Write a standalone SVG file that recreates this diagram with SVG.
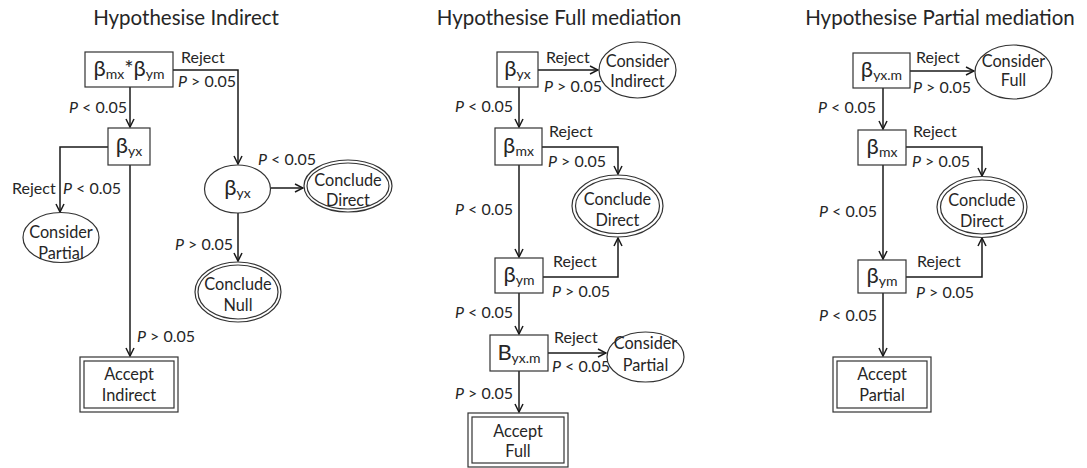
<svg xmlns="http://www.w3.org/2000/svg" width="1087" height="468" viewBox="0 0 1087 468">
  <defs>
    <marker id="arrow" viewBox="0 0 10 10" refX="9" refY="5" markerWidth="10" markerHeight="10" markerUnits="userSpaceOnUse" orient="auto">
      <path d="M1,1 L9,5 L1,9" fill="none" stroke="#1a1a1a" stroke-width="1.5"/>
    </marker>
  </defs>
  <style>
    text { font-family: Lato, "Liberation Sans", sans-serif; fill: #262626; }
    .title { font-size: 20.5px; text-anchor: middle; }
    .lbl { font-size: 16px; }
    .txt { font-size: 16.3px; text-anchor: middle; }
    .greek { font-size: 22px; text-anchor: middle; }
    .sub { font-size: 14px; }
    .box { fill: #ffffff; stroke: #333333; stroke-width: 1.2; }
    .ell { fill: #ffffff; stroke: #333333; stroke-width: 1.2; }
    .edge { fill: none; stroke: #1a1a1a; stroke-width: 1.5; marker-end: url(#arrow); }
    .it { font-style: italic; }
  </style>

  <!-- panel titles -->
  <text class="title" x="186" y="25">Hypothesise Indirect</text>
  <text class="title" x="559" y="25">Hypothesise Full mediation</text>
  <text class="title" x="940" y="25">Hypothesise Partial mediation</text>

  <!-- connectors -->
  <g id="connectors">
    <!-- indirect panel -->
    <path class="edge" d="M130,87 L130,127"/>
    <path class="edge" d="M173,70 L238,70 L238,164"/>
    <path class="edge" d="M108,147 L60,147 L60,212"/>
    <path class="edge" d="M130,165 L130,356"/>
    <path class="edge" d="M271,188 L303,188"/>
    <path class="edge" d="M238,213 L238,261"/>
    <!-- full mediation panel -->
    <path class="edge" d="M519,87 L519,127"/>
    <path class="edge" d="M538,70 L598,70"/>
    <path class="edge" d="M542,147 L618,147 L618,174"/>
    <path class="edge" d="M519,165 L519,257"/>
    <path class="edge" d="M543,277 L618,277 L618,238"/>
    <path class="edge" d="M519,293 L519,334"/>
    <path class="edge" d="M548,353 L606,353"/>
    <path class="edge" d="M519,371 L519,412"/>
    <!-- partial mediation panel -->
    <path class="edge" d="M910,71 L974,71"/>
    <path class="edge" d="M883,88 L883,129"/>
    <path class="edge" d="M906,147 L982,147 L982,176"/>
    <path class="edge" d="M883,165 L883,259"/>
    <path class="edge" d="M906,277 L982,277 L982,238"/>
    <path class="edge" d="M883,293 L883,356"/>
  </g>

  <!-- connector labels -->
  <g id="edge-labels">
    <text class="lbl" x="181" y="63">Reject</text>
    <text class="lbl" x="178" y="87"><tspan class="it">P</tspan> &gt; 0.05</text>
    <text class="lbl" x="69" y="113"><tspan class="it">P</tspan> &lt; 0.05</text>
    <text class="lbl" x="12" y="194">Reject</text>
    <text class="lbl" x="63" y="194"><tspan class="it">P</tspan> &lt; 0.05</text>
    <text class="lbl" x="137" y="342"><tspan class="it">P</tspan> &gt; 0.05</text>
    <text class="lbl" x="258" y="165"><tspan class="it">P</tspan> &lt; 0.05</text>
    <text class="lbl" x="175" y="250"><tspan class="it">P</tspan> &gt; 0.05</text>

    <text class="lbl" x="546" y="63">Reject</text>
    <text class="lbl" x="544" y="92"><tspan class="it">P</tspan> &gt; 0.05</text>
    <text class="lbl" x="455" y="112"><tspan class="it">P</tspan> &lt; 0.05</text>
    <text class="lbl" x="549" y="137">Reject</text>
    <text class="lbl" x="548" y="167"><tspan class="it">P</tspan> &gt; 0.05</text>
    <text class="lbl" x="455" y="215"><tspan class="it">P</tspan> &lt; 0.05</text>
    <text class="lbl" x="553" y="267">Reject</text>
    <text class="lbl" x="552" y="297"><tspan class="it">P</tspan> &gt; 0.05</text>
    <text class="lbl" x="455" y="318"><tspan class="it">P</tspan> &lt; 0.05</text>
    <text class="lbl" x="554" y="343">Reject</text>
    <text class="lbl" x="552" y="372"><tspan class="it">P</tspan> &lt; 0.05</text>
    <text class="lbl" x="455" y="399"><tspan class="it">P</tspan> &gt; 0.05</text>

    <text class="lbl" x="916" y="63">Reject</text>
    <text class="lbl" x="913" y="93"><tspan class="it">P</tspan> &gt; 0.05</text>
    <text class="lbl" x="818" y="113"><tspan class="it">P</tspan> &lt; 0.05</text>
    <text class="lbl" x="913" y="137">Reject</text>
    <text class="lbl" x="912" y="167"><tspan class="it">P</tspan> &gt; 0.05</text>
    <text class="lbl" x="819" y="217"><tspan class="it">P</tspan> &lt; 0.05</text>
    <text class="lbl" x="917" y="267">Reject</text>
    <text class="lbl" x="916" y="298"><tspan class="it">P</tspan> &gt; 0.05</text>
    <text class="lbl" x="819" y="321"><tspan class="it">P</tspan> &lt; 0.05</text>
  </g>

  <!-- ===== Hypothesise Indirect ===== -->
  <g id="ind-product">
    <rect class="box" x="85" y="52" width="88" height="35"/>
    <text class="greek" x="129" y="76">β<tspan class="sub" dy="3">mx</tspan><tspan dy="-3">*β</tspan><tspan class="sub" dy="3">ym</tspan></text>
  </g>
  <g id="ind-byx">
    <rect class="box" x="108" y="128" width="42" height="37"/>
    <text class="greek" x="129" y="153">β<tspan class="sub" dy="3">yx</tspan></text>
  </g>
  <g id="ind-byx-test">
    <ellipse class="ell" cx="237.5" cy="189" rx="33" ry="24"/>
    <text class="greek" x="237.5" y="195">β<tspan class="sub" dy="3">yx</tspan></text>
  </g>
  <g id="ind-consider-partial">
    <ellipse class="ell" cx="61" cy="237.5" rx="38" ry="25"/>
    <text class="txt" x="61" y="238">Consider</text>
    <text class="txt" x="61" y="259">Partial</text>
  </g>
  <g id="ind-conclude-direct">
    <ellipse class="ell" cx="348" cy="186" rx="44" ry="26"/>
    <ellipse class="ell" cx="348" cy="186" rx="41" ry="23"/>
    <text class="txt" x="348" y="186">Conclude</text>
    <text class="txt" x="348" y="206">Direct</text>
  </g>
  <g id="ind-conclude-null">
    <ellipse class="ell" cx="238" cy="292" rx="43" ry="30"/>
    <ellipse class="ell" cx="238" cy="292" rx="40" ry="27"/>
    <text class="txt" x="238" y="290">Conclude</text>
    <text class="txt" x="238" y="311">Null</text>
  </g>
  <g id="ind-accept">
    <rect class="box" x="80" y="357" width="98" height="55"/>
    <rect class="box" x="84" y="361" width="90" height="47"/>
    <text class="txt" x="129" y="380">Accept</text>
    <text class="txt" x="129" y="401">Indirect</text>
  </g>

  <!-- ===== Hypothesise Full mediation ===== -->
  <g id="full-byx">
    <rect class="box" x="497" y="52" width="41" height="35"/>
    <text class="greek" x="517.5" y="76">β<tspan class="sub" dy="3">yx</tspan></text>
  </g>
  <g id="full-consider-indirect">
    <ellipse class="ell" cx="637.5" cy="70" rx="38.5" ry="28"/>
    <text class="txt" x="637.5" y="67">Consider</text>
    <text class="txt" x="637.5" y="87">Indirect</text>
  </g>
  <g id="full-bmx">
    <rect class="box" x="495" y="128" width="47" height="37"/>
    <text class="greek" x="518.5" y="153">β<tspan class="sub" dy="3">mx</tspan></text>
  </g>
  <g id="full-conclude-direct">
    <ellipse class="ell" cx="617.5" cy="206" rx="45.5" ry="31"/>
    <ellipse class="ell" cx="617.5" cy="206" rx="42" ry="27.5"/>
    <text class="txt" x="617.5" y="205">Conclude</text>
    <text class="txt" x="617.5" y="226">Direct</text>
  </g>
  <g id="full-bym">
    <rect class="box" x="495" y="258" width="48" height="35"/>
    <text class="greek" x="519" y="282">β<tspan class="sub" dy="3">ym</tspan></text>
  </g>
  <g id="full-byxm">
    <rect class="box" x="490" y="335" width="58" height="36"/>
    <text class="greek" x="519" y="360">B<tspan class="sub" dy="3">yx.m</tspan></text>
  </g>
  <g id="full-consider-partial">
    <ellipse class="ell" cx="645.5" cy="357" rx="38.5" ry="25"/>
    <text class="txt" x="645.5" y="349">Consider</text>
    <text class="txt" x="645.5" y="371">Partial</text>
  </g>
  <g id="full-accept">
    <rect class="box" x="468" y="413" width="100" height="54"/>
    <rect class="box" x="472" y="417" width="92" height="46"/>
    <text class="txt" x="518" y="437">Accept</text>
    <text class="txt" x="518" y="457">Full</text>
  </g>

  <!-- ===== Hypothesise Partial mediation ===== -->
  <g id="part-byxm">
    <rect class="box" x="853" y="53" width="57" height="35"/>
    <text class="greek" x="881.5" y="77">β<tspan class="sub" dy="3">yx.m</tspan></text>
  </g>
  <g id="part-consider-full">
    <ellipse class="ell" cx="1013.5" cy="72" rx="38.5" ry="27"/>
    <text class="txt" x="1013.5" y="67">Consider</text>
    <text class="txt" x="1013.5" y="86">Full</text>
  </g>
  <g id="part-bmx">
    <rect class="box" x="858" y="130" width="48" height="35"/>
    <text class="greek" x="882" y="154">β<tspan class="sub" dy="3">mx</tspan></text>
  </g>
  <g id="part-conclude-direct">
    <ellipse class="ell" cx="982" cy="207" rx="45" ry="30.5"/>
    <ellipse class="ell" cx="982" cy="207" rx="41.5" ry="27"/>
    <text class="txt" x="982" y="206">Conclude</text>
    <text class="txt" x="982" y="227">Direct</text>
  </g>
  <g id="part-bym">
    <rect class="box" x="858" y="260" width="48" height="33"/>
    <text class="greek" x="882" y="283">β<tspan class="sub" dy="3">ym</tspan></text>
  </g>
  <g id="part-accept">
    <rect class="box" x="833" y="357" width="98" height="55"/>
    <rect class="box" x="837" y="361" width="90" height="47"/>
    <text class="txt" x="882" y="380">Accept</text>
    <text class="txt" x="882" y="401">Partial</text>
  </g>
</svg>
